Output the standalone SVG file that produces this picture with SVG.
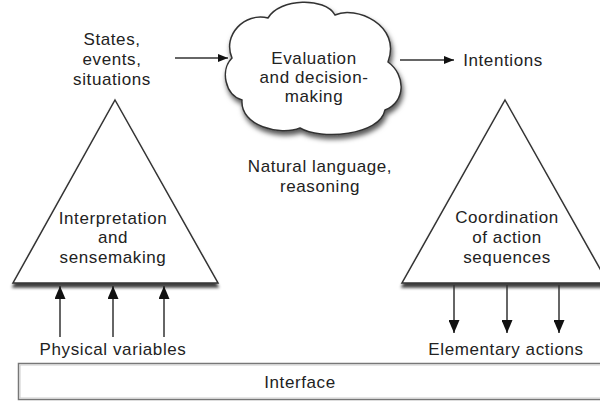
<svg xmlns="http://www.w3.org/2000/svg" width="600" height="401" viewBox="0 0 600 401">
  <defs>
    <style>
      .lbl { font-family: "Liberation Sans", Arial, sans-serif; font-size: 17px; letter-spacing: 0.6px; fill: #222; text-anchor: middle; }
      .shape { fill: #fff; stroke: #333; stroke-width: 1.5; }
      .conn { stroke: #333; stroke-width: 1.5; fill: none; }
    </style>
    <filter id="shadow" x="-10%" y="-10%" width="125%" height="130%">
      <feDropShadow dx="1.5" dy="4" stdDeviation="2.5" flood-color="#000" flood-opacity="0.65"/>
    </filter>
    <filter id="baseShadow" x="-5%" y="-5%" width="110%" height="115%">
      <feDropShadow dx="0" dy="4" stdDeviation="1.8" flood-color="#000" flood-opacity="0.75"/>
    </filter>
    <marker id="arrowSmall" viewBox="0 0 10 8" refX="10" refY="4" markerWidth="10" markerHeight="8" markerUnits="userSpaceOnUse" orient="auto">
      <path d="M0,0 L10,4 L0,8 Z" fill="#111"/>
    </marker>
    <marker id="arrowBig" viewBox="0 0 13 11" refX="13" refY="5.5" markerWidth="13" markerHeight="11" markerUnits="userSpaceOnUse" orient="auto">
      <path d="M0,0 L13,5.5 L0,11 Z" fill="#111"/>
    </marker>
  </defs>

  <rect width="600" height="401" fill="#fff"/>

  <!-- upper row -->
  <g id="states">
    <text class="lbl" x="112" y="45">States,</text>
    <text class="lbl" x="112" y="65">events,</text>
    <text class="lbl" x="112" y="85">situations</text>
  </g>

  <g id="evaluation">
    <path class="shape" filter="url(#shadow)" d="M232,58 C222,35 245,12 268,18 C280,-2 325,-3 335,15 C355,5 402,25 388,62 C406,75 406,102 385,110 C380,136 320,140 300,128 C280,136 240,126 242,100 C225,95 220,70 232,58 Z"/>
    <text class="lbl" x="314" y="64">Evaluation</text>
    <text class="lbl" x="314" y="83">and decision-</text>
    <text class="lbl" x="314" y="102">making</text>
  </g>

  <g id="intentions">
    <text class="lbl" x="503" y="66">Intentions</text>
  </g>

  <g id="language">
    <text class="lbl" x="320" y="172">Natural language,</text>
    <text class="lbl" x="320" y="192">reasoning</text>
  </g>

  <!-- pyramids -->
  <g id="interpretation">
    <path class="shape" filter="url(#baseShadow)" d="M115,100 L218,283 L13,283 Z"/>
    <text class="lbl" x="113" y="224">Interpretation</text>
    <text class="lbl" x="113" y="243">and</text>
    <text class="lbl" x="113" y="263">sensemaking</text>
  </g>

  <g id="coordination">
    <path class="shape" filter="url(#baseShadow)" d="M505,100 L608,283 L402,283 Z"/>
    <text class="lbl" x="507" y="223">Coordination</text>
    <text class="lbl" x="507" y="243">of action</text>
    <text class="lbl" x="507" y="263">sequences</text>
  </g>

  <!-- bottom row -->
  <g id="physical">
    <text class="lbl" x="113" y="355">Physical variables</text>
  </g>

  <g id="elementary">
    <text class="lbl" x="506" y="355">Elementary actions</text>
  </g>

  <g id="interface">
    <rect x="18.5" y="363.5" width="600" height="36" fill="#fff" stroke="#777" stroke-width="1.5"/>
    <rect x="20" y="365" width="598" height="33" fill="none" stroke="#ccc" stroke-width="1"/>
    <text class="lbl" x="300" y="388">Interface</text>
  </g>

  <!-- connectors -->
  <g id="connectors">
    <line class="conn" x1="175" y1="58" x2="228" y2="58" marker-end="url(#arrowSmall)"/>
    <line class="conn" x1="400" y1="60" x2="454" y2="60" marker-end="url(#arrowSmall)"/>

    <line class="conn" x1="60" y1="337" x2="60" y2="286" marker-end="url(#arrowBig)"/>
    <line class="conn" x1="113" y1="337" x2="113" y2="286" marker-end="url(#arrowBig)"/>
    <line class="conn" x1="164" y1="337" x2="164" y2="286" marker-end="url(#arrowBig)"/>

    <line class="conn" x1="454" y1="285" x2="454" y2="333" marker-end="url(#arrowBig)"/>
    <line class="conn" x1="507" y1="285" x2="507" y2="333" marker-end="url(#arrowBig)"/>
    <line class="conn" x1="559" y1="285" x2="559" y2="333" marker-end="url(#arrowBig)"/>
  </g>
</svg>
